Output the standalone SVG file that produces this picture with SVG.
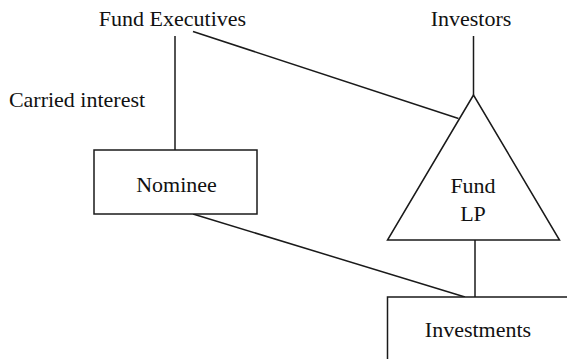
<svg xmlns="http://www.w3.org/2000/svg" width="567" height="359" viewBox="0 0 567 359">
<style>
.l{stroke:#1a1a1a;stroke-width:1.5;fill:none}
.s{stroke:#1a1a1a;stroke-width:1.5;fill:#fff}
.t{font-family:"Liberation Serif","Times New Roman",serif;font-size:22px;fill:#111;text-anchor:middle}
</style>
<rect width="567" height="359" fill="#fff"/>
<g id="connectors">
<line class="l" x1="175" y1="36" x2="175" y2="150"/>
<line class="l" x1="193" y1="31.5" x2="458.5" y2="118.5"/>
<line class="l" x1="473.5" y1="36" x2="473.5" y2="95"/>
<line class="l" x1="475" y1="240" x2="475" y2="297"/>
<line class="l" x1="193" y1="214" x2="465" y2="297"/>
</g>
<g id="fund-executives"><text class="t" x="172.5" y="26">Fund Executives</text></g>
<g id="investors"><text class="t" x="471" y="26">Investors</text></g>
<g id="carried-interest"><text class="t" x="77" y="107">Carried interest</text></g>
<g id="nominee">
<rect class="s" x="94" y="150" width="163" height="64"/>
<text class="t" x="176.5" y="192">Nominee</text>
</g>
<g id="fund-lp">
<polygon class="s" points="473.5,95 387.5,240 559.5,240"/>
<text class="t" x="473" y="193">Fund</text>
<text class="t" x="473" y="221">LP</text>
</g>
<g id="investments">
<rect class="s" x="387.5" y="297" width="200" height="100"/>
<text class="t" x="478" y="337">Investments</text>
</g>
</svg>
